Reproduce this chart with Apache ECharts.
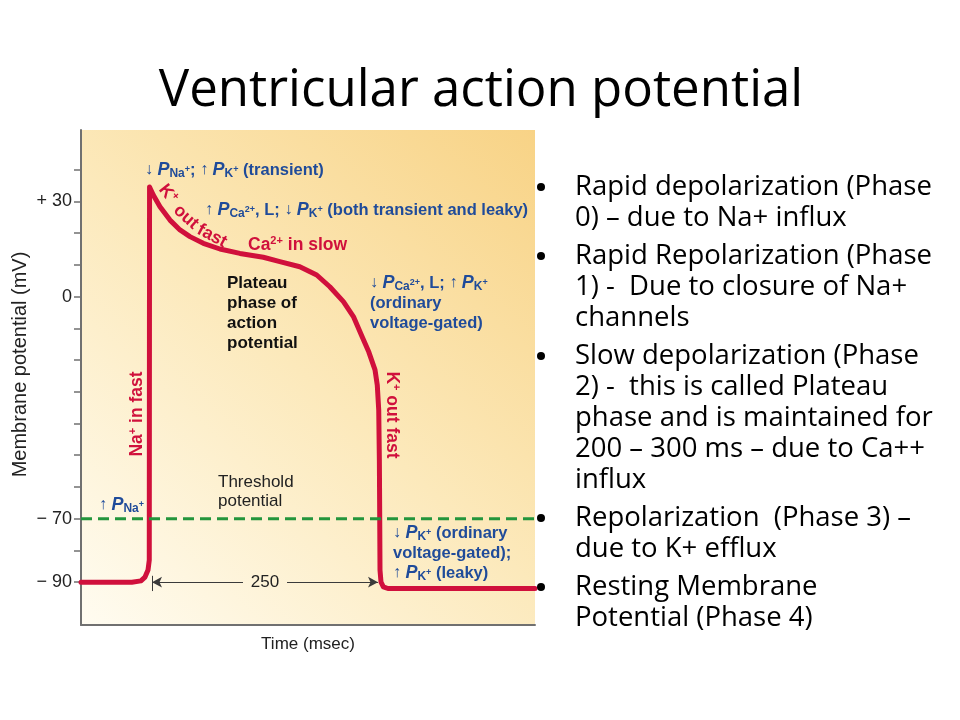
<!DOCTYPE html>
<html>
<head>
<meta charset="utf-8">
<title>Ventricular action potential</title>
<script src="https://cdn.jsdelivr.net/npm/echarts@6/dist/echarts.min.js"></script>
<style>
    html, body { margin: 0; padding: 0; background: #fff; }
    #chart { width: 960px; height: 720px; }
</style>
</head>
<body>
<div id="chart"></div>
<script>
// action potential trace (time in ms, potential in mV)
const timeMs = [0, 56, 66, 70.5, 73.8, 75.2, 75.5, 79.6, 87, 98, 109, 120, 134.7, 153, 175, 200.8, 219, 241, 259.6, 274, 289, 300, 309.5, 317, 323.8, 326.3, 327.9, 328.6, 329, 329.3, 330.4, 333, 338, 500];
const potentialMv = [-90, -90, -89.6, -88.4, -86.2, -83, 34.5, 32.0, 28.3, 24.1, 21.0, 18.9, 16.8, 15.0, 13.6, 12.4, 11.0, 9.4, 6.8, 3.1, -1.6, -6.3, -12.6, -17.5, -23.1, -27.9, -35.8, -51.5, -70.4, -86.2, -90, -91.5, -92, -92];

const thresholdMv = -70;
const restMv = -90;
// the "250" duration marker: start and end of the action potential
const durationStart = 78.2;
const durationEnd = 327.1;
const durationLabel = "250";

const yTickValues = [-90, -80, -70, -60, -50, -40, -30, -20, -10, 0, 10, 20, 30, 40];
const yLabelValues = [-90, -70, 0, 30];

const bulletParagraphs = [
    ["Rapid depolarization (Phase", "0) \u2013 due to Na+ influx"],
    ["Rapid Repolarization (Phase", "1) -  Due to closure of Na+", "channels"],
    ["Slow depolarization (Phase", "2) -  this is called Plateau", "phase and is maintained for", "200 \u2013 300 ms \u2013 due to Ca++", "influx"],
    ["Repolarization  (Phase 3) \u2013", "due to K+ efflux"],
    ["Resting Membrane", "Potential (Phase 4)"],
];

const RED = "#d0103c";
const BLUE = "#1f4b9a";
const GREEN = "#23953c";
const FONT = "Liberation Sans";
const SLIDE_FONT = "Open Sans";

const deg = (d) => (d * Math.PI) / 180;

const blue_rich = {
    t: { fontFamily: FONT, fontSize: 16.5, fontWeight: "bold", fill: BLUE, lineHeight: 20 },
    ar: { fontFamily: FONT, fontSize: 16, fill: BLUE, lineHeight: 20 },
    p: { fontFamily: FONT, fontSize: 18, fontWeight: "bold", fontStyle: "italic", fill: BLUE, lineHeight: 20 },
    s: { fontFamily: FONT, fontSize: 12, fontWeight: "bold", fill: BLUE, verticalAlign: "bottom", lineHeight: 12 },
    sp: { fontFamily: FONT, fontSize: 9, fontWeight: "bold", fill: BLUE, verticalAlign: "middle" },
};
const red_rich = {
    r: { fontFamily: FONT, fontSize: 17.5, fontWeight: "bold", fill: RED, lineHeight: 20 },
    rs: { fontFamily: FONT, fontSize: 11, fontWeight: "bold", fill: RED, verticalAlign: "top", lineHeight: 12 },
};

const rich_text = function (x, y, text, rich, opts) {
    opts = opts || {};
    return {
        type: "text",
        x: x,
        y: y,
        rotation: opts.rotation || 0,
        z: 50,
        style: {
            text: text,
            rich: rich,
            align: opts.align || "left",
            verticalAlign: "middle",
        },
    };
};

const plain_text = function (x, y, text, font, opts) {
    opts = opts || {};
    return {
        type: "text",
        x: x,
        y: y,
        z: 50,
        style: {
            text: text,
            font: font,
            fill: opts.fill || "#111",
            align: opts.align || "left",
            verticalAlign: "middle",
            lineHeight: opts.lineHeight,
        },
    };
};

const get_annotations = function () {
    const els = [];
    // blue permeability notes
    els.push(rich_text(145, 170, "{ar|\u2193 }{p|P}{s|Na}{sp|+}{t|; }{ar|\u2191 }{p|P}{s|K}{sp|+}{t| (transient)}", blue_rich));
    els.push(rich_text(205, 210, "{ar|\u2191 }{p|P}{s|Ca}{sp|2+}{t|, L; }{ar|\u2193 }{p|P}{s|K}{sp|+}{t| (both transient and leaky)}", blue_rich));
    els.push(rich_text(370, 303, "{ar|\u2193 }{p|P}{s|Ca}{sp|2+}{t|, L; }{ar|\u2191 }{p|P}{s|K}{sp|+}\n{t|(ordinary}\n{t|voltage-gated)}", blue_rich));
    els.push(rich_text(99, 505, "{ar|\u2191 }{p|P}{s|Na}{sp|+}", blue_rich));
    els.push(rich_text(393, 553, "{ar|\u2193 }{p|P}{s|K}{sp|+}{t| (ordinary}\n{t|voltage-gated);}\n{ar|\u2191 }{p|P}{s|K}{sp|+}{t| (leaky)}", blue_rich));
    // red ion flow notes
    els.push(rich_text(168, 194, "{r|K}{rs|+}", red_rich, { align: "center", rotation: deg(-52) }));
    els.push(rich_text(186, 217, "{r|out}", red_rich, { align: "center", rotation: deg(-42) }));
    els.push(rich_text(212, 236, "{r|fast}", red_rich, { align: "center", rotation: deg(-28) }));
    els.push(rich_text(248, 245, "{r|Ca}{rs|2+}{r| in slow}", red_rich));
    els.push(rich_text(137, 414, "{r|Na}{rs|+}{r| in fast}", red_rich, { align: "center", rotation: deg(90) }));
    els.push(rich_text(392, 415, "{r|K}{rs|+}{r| out fast}", red_rich, { align: "center", rotation: deg(-90) }));
    // black notes
    els.push(plain_text(227, 313, "Plateau\nphase of\naction\npotential", "bold 17px " + FONT, { lineHeight: 20 }));
    els.push(plain_text(218, 492, "Threshold\npotential", "17px " + FONT, { lineHeight: 19, fill: "#222" }));
    return els;
};

const get_slide_text = function () {
    const els = [];
    els.push(plain_text(481, 91, "Ventricular action potential", "51px " + SLIDE_FONT, { align: "center", fill: "#000" }));
    let y = 187;
    bulletParagraphs.forEach(function (lines, p) {
        if (p > 0) y += 7;
        els.push({ type: "circle", z: 50, shape: { cx: 541, cy: y, r: 4 }, style: { fill: "#000" } });
        lines.forEach(function (line) {
            els.push(plain_text(575, y, line, "27.5px " + SLIDE_FONT, { fill: "#000" }));
            y += 31;
        });
    });
    return els;
};

const chart_el = document.getElementById("chart");
let echart_instance = null;
let config = {};

const get_config = function () {
    const trace = timeMs.map((t, i) => [t, potentialMv[i]]);
    config = {
        animation: false,
        textStyle: { fontFamily: FONT },
        grid: {
            left: 81,
            right: 425,
            top: 130,
            bottom: 95,
            show: true,
            borderWidth: 0,
            backgroundColor: new echarts.graphic.LinearGradient(0, 1, 1, 0, [
                { offset: 0, color: "#fffcf1" },
                { offset: 0.5, color: "#fce9bb" },
                { offset: 1, color: "#f8d386" },
            ]),
        },
        xAxis: {
            type: "value",
            min: 0,
            max: 500,
            name: "Time (msec)",
            nameLocation: "middle",
            nameGap: 11,
            nameTextStyle: { fontSize: 17, color: "#222" },
            splitLine: { show: false },
            axisTick: { show: false },
            axisLabel: { show: false },
            axisLine: { onZero: false, lineStyle: { color: "#707070", width: 2 } },
        },
        yAxis: {
            type: "value",
            min: -103.5,
            max: 52.5,
            name: "Membrane potential (mV)",
            nameLocation: "middle",
            nameGap: 51,
            nameTextStyle: { fontSize: 20, color: "#222", padding: [0, 0, 0, 26] },
            splitLine: { show: false },
            axisLine: { show: true, onZero: false, lineStyle: { color: "#707070", width: 2 } },
            axisTick: {
                show: true,
                length: 7,
                customValues: yTickValues,
                lineStyle: { color: "#707070", width: 1.5 },
            },
            axisLabel: {
                customValues: yLabelValues,
                fontSize: 18,
                color: "#222",
                margin: 9,
                formatter: (v) => (v > 0 ? "+ " + v : v < 0 ? "\u2212 " + -v : "0"),
            },
        },
        series: [
            {
                name: "membrane potential",
                type: "line",
                data: trace,
                showSymbol: false,
                z: 3,
                lineStyle: { color: RED, width: 5, join: "round", cap: "round" },
                markLine: {
                    silent: true,
                    animation: false,
                    label: { show: false },
                    lineStyle: { color: "#3a3a3a", width: 1, type: "solid" },
                    symbolSize: [8, 10],
                    data: [
                        [
                            { coord: [durationStart, restMv], symbol: "arrow" },
                            { coord: [178.4, restMv], symbol: "none" },
                        ],
                        [
                            { coord: [226.9, restMv], symbol: "none" },
                            { coord: [durationEnd, restMv], symbol: "arrow" },
                        ],
                        [
                            { coord: [durationStart, -88], symbol: "none" },
                            { coord: [durationStart, -92.8], symbol: "none" },
                        ],
                    ],
                },
                markPoint: {
                    silent: true,
                    symbol: "circle",
                    symbolSize: 1,
                    itemStyle: { color: "rgba(0,0,0,0)" },
                    label: {
                        show: true,
                        position: "inside",
                        fontSize: 17,
                        color: "#222",
                        formatter: durationLabel,
                    },
                    data: [{ coord: [(durationStart + durationEnd) / 2, restMv] }],
                },
            },
            {
                name: "threshold",
                type: "line",
                data: [
                    [0, thresholdMv],
                    [500, thresholdMv],
                ],
                showSymbol: false,
                z: 4,
                lineStyle: { color: GREEN, width: 3, type: [11, 6] },
            },
        ],
        graphic: get_annotations().concat(get_slide_text()),
    };
};

const init = function () {
    echart_instance = echarts.init(chart_el, null, { renderer: "canvas" });
    get_config();
    echart_instance.setOption(config);
};

init();
</script>
</body>
</html>
